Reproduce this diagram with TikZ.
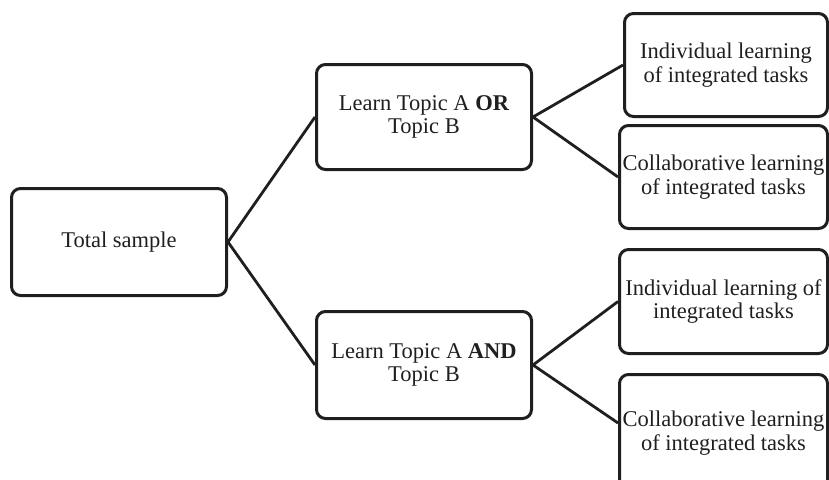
\documentclass[tikz,border=0pt]{standalone}
\usepackage{fontspec}
\setmainfont{Liberation Serif}
\begin{document}
\begin{tikzpicture}[x=1pt,y=-1pt,
  box/.style={draw=black!88, line width=3pt, rounded corners=9pt, align=center,
    inner sep=0pt, font=\fontsize{22.5}{23.5}\selectfont, text=black!88},
  link/.style={draw=black!88, line width=2.8pt}]
\useasboundingbox (0,0) rectangle (829,479);
\node[box, minimum width=215pt, minimum height=107pt] (total) at (119,242) {Total sample};
\node[box, minimum width=215pt, minimum height=105pt] (or) at (424,117) {Learn Topic A \textbf{OR}\\Topic B};
\node[box, minimum width=215pt, minimum height=107pt] (and) at (424,365) {Learn Topic A \textbf{AND}\\Topic B};
\node[box, minimum width=203pt, minimum height=103pt] (ind1) at (726,65) {Individual learning\\of integrated tasks};
\node[box, minimum width=208pt, minimum height=103pt] (col1) at (723.5,177) {Collaborative learning\\of integrated tasks};
\node[box, minimum width=208pt, minimum height=104pt] (ind2) at (723.5,301.5) {Individual learning of\\integrated tasks};
\node[box, minimum width=208pt, minimum height=117pt] (col2) at (723.5,433) {Collaborative learning\\of integrated tasks};
\draw[link] (total.east) -- (or.west);
\draw[link] (total.east) -- (and.west);
\draw[link] (or.east) -- (ind1.west);
\draw[link] (or.east) -- (col1.west);
\draw[link] (and.east) -- (ind2.west);
\draw[link] (and.east) -- ([yshift=10pt]col2.west);
\end{tikzpicture}
\end{document}
